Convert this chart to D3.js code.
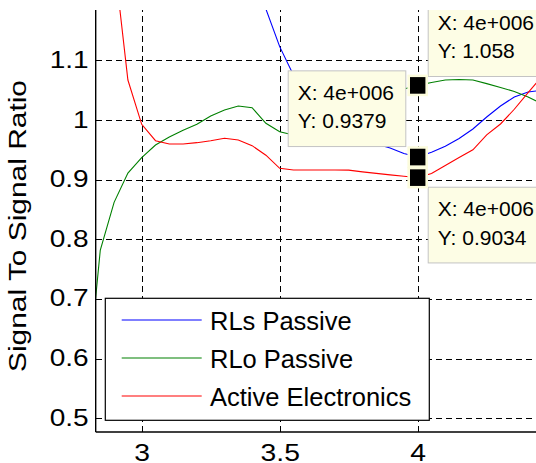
<!DOCTYPE html>
<html>
<head>
<meta charset="utf-8">
<script src="https://cdn.jsdelivr.net/npm/d3@7"></script>
<style>
  html, body { margin: 0; padding: 0; background: #fff; overflow: hidden; }
  svg { display: block; }
  text { font-family: "Liberation Sans", Arial, Helvetica, sans-serif; fill: #000; }
</style>
</head>
<body>
<svg id="chart" width="536" height="463"></svg>
<script>
// Frequency axis (MHz) and signal-to-signal ratio for each configuration
const frequency = [2.8, 2.85, 2.9, 2.95, 3.0, 3.05, 3.1, 3.15, 3.2, 3.25, 3.3, 3.35,
  3.4, 3.45, 3.5, 3.55, 3.6, 3.65, 3.7, 3.75, 3.8, 3.85, 3.9, 3.95, 4.0,
  4.05, 4.1, 4.15, 4.2, 4.25, 4.3, 4.35, 4.4, 4.45];

const rlsPassive = [null, null, null, null, null, null, null, null, null, null, null, null,
  1.32, 1.186, 1.123, 1.075, 1.035, 1.008, 0.988, 0.975, 0.966, 0.960, 0.953, 0.944, 0.9379,
  0.946, 0.956, 0.969, 0.985, 1.005, 1.0235, 1.0386, 1.047, 1.050];

const rloPassive = [0.545, 0.782, 0.862, 0.911, 0.937, 0.958, 0.9715, 0.983, 0.993, 1.0067, 1.0168, 1.0235,
  1.0206, 0.9945, 0.9804, 0.975, 0.978, 0.988, 0.999, 1.011, 1.024, 1.035, 1.045, 1.052, 1.058,
  1.0629, 1.067, 1.068, 1.067, 1.061, 1.0545, 1.0478, 1.0386, 1.027];

const activeElectronics = [null, null, 1.27, 1.067, 0.9928, 0.9653, 0.9598, 0.9598, 0.962, 0.9653, 0.9693, 0.9665,
  0.957, 0.941, 0.919, 0.9162, 0.9162, 0.9162, 0.9162, 0.916, 0.913, 0.9105, 0.908, 0.9058, 0.9034,
  0.9103, 0.9237, 0.937, 0.950, 0.975, 0.9933, 1.018, 1.046, 1.073];

const seriesNames = ["RLs Passive", "RLo Passive", "Active Electronics"];
const seriesColors = ["#0000ff", "#008000", "#ff0000"];

const xTicks = [3, 3.5, 4];
const xTickLabels = ["3", "3.5", "4"];
const yTicks = [0.5, 0.6, 0.7, 0.8, 0.9, 1.0, 1.1];
const yTickLabels = ["0.5", "0.6", "0.7", "0.8", "0.9", "1", "1.1"];
const yAxisTitle = "Signal To Signal Ratio";

// Data cursor placed at 4 MHz on every curve
const cursorFrequency = 4.0;
const frequencyUnit = 1e6;

const series = [rlsPassive, rloPassive, activeElectronics];

// ---- layout ----
const W = 536, H = 463;
const plot = { left: 95.7, top: 10, right: W, bottom: 432 };

const svg = d3.select("#chart");

const x = d3.scaleLinear().domain([3, 4]).range([141.7, 417.7]);
const y = d3.scaleLinear().domain([0.5, 1.0]).range([418.3, 120]);

svg.append("defs").append("clipPath").attr("id", "plotClip")
  .append("rect")
  .attr("x", plot.left).attr("y", plot.top)
  .attr("width", plot.right - plot.left).attr("height", plot.bottom - plot.top);

svg.append("defs").append("clipPath").attr("id", "figClip")
  .append("rect").attr("x", 0).attr("y", plot.top).attr("width", W).attr("height", H - plot.top);

// ---- dashed grid ----
const dash = "6,4";
svg.append("g")
  .attr("transform", `translate(${plot.left},0)`)
  .call(d3.axisLeft(y).tickValues(yTicks).tickSize(-(plot.right - plot.left)).tickFormat(""))
  .call(g => g.select(".domain").remove())
  .call(g => g.selectAll(".tick line")
    .attr("stroke", "#000").attr("stroke-width", 1).attr("stroke-dasharray", dash)
    .attr("shape-rendering", "crispEdges"));

svg.append("g")
  .attr("transform", `translate(0,${plot.bottom})`)
  .call(d3.axisBottom(x).tickValues(xTicks).tickSize(-(plot.bottom - plot.top)).tickFormat(""))
  .call(g => g.select(".domain").remove())
  .call(g => g.selectAll(".tick line")
    .attr("stroke", "#000").attr("stroke-width", 1).attr("stroke-dasharray", dash)
    .attr("shape-rendering", "crispEdges"));

// ---- curves ----
const line = d3.line()
  .defined(d => d[1] !== null)
  .x(d => x(d[0]))
  .y(d => y(d[1]));

const curves = svg.append("g").attr("clip-path", "url(#plotClip)");
series.forEach((vals, i) => {
  curves.append("path")
    .datum(frequency.map((f, k) => [f, vals[k]]))
    .attr("fill", "none")
    .attr("stroke", seriesColors[i])
    .attr("stroke-width", 1.1)
    .attr("d", line);
});

// ---- axes (inward ticks, MATLAB style) ----
const yAxis = svg.append("g")
  .attr("transform", `translate(${plot.left},0)`)
  .call(d3.axisLeft(y).tickValues(yTicks).tickSizeInner(-5).tickSizeOuter(0)
    .tickFormat((d, i) => yTickLabels[i]));
yAxis.select(".domain").remove();
yAxis.selectAll(".tick line").attr("stroke", "#000").attr("shape-rendering", "crispEdges");
yAxis.selectAll(".tick text")
  .attr("x", null).attr("dy", null)
  .attr("text-anchor", "end")
  .attr("font-size", 23)
  .attr("font-family", null)
  .attr("transform", "translate(-7,7) scale(1.22,1)");

const xAxis = svg.append("g")
  .attr("transform", `translate(0,${plot.bottom})`)
  .call(d3.axisBottom(x).tickValues(xTicks).tickSizeInner(-5).tickSizeOuter(0)
    .tickFormat((d, i) => xTickLabels[i]));
xAxis.select(".domain").remove();
xAxis.selectAll(".tick line").attr("stroke", "#000").attr("shape-rendering", "crispEdges");
xAxis.selectAll(".tick text")
  .attr("y", null).attr("dy", null)
  .attr("text-anchor", "middle")
  .attr("font-size", 24)
  .attr("font-family", null)
  .attr("transform", "translate(0,29) scale(1.18,1)");

svg.append("line")
  .attr("x1", plot.left).attr("x2", plot.left)
  .attr("y1", plot.top).attr("y2", plot.bottom)
  .attr("stroke", "#000").attr("stroke-width", 1.4);
svg.append("line")
  .attr("x1", plot.left).attr("x2", plot.right)
  .attr("y1", plot.bottom).attr("y2", plot.bottom)
  .attr("stroke", "#000").attr("stroke-width", 1.4);

svg.append("text")
  .attr("transform", `translate(26,${(80 + 372) / 2}) rotate(-90)`)
  .attr("text-anchor", "middle")
  .attr("font-size", 23)
  .attr("textLength", 292)
  .attr("lengthAdjust", "spacingAndGlyphs")
  .text(yAxisTitle);

// ---- legend ----
const legend = svg.append("g");
legend.append("rect")
  .attr("x", 105.3).attr("y", 298.3).attr("width", 324).attr("height", 122)
  .attr("fill", "#fff").attr("stroke", "#000").attr("stroke-width", 1.2);
seriesNames.forEach((name, i) => {
  const cy = 320 + i * 38;
  legend.append("line")
    .attr("x1", 121.7).attr("x2", 201.7).attr("y1", cy).attr("y2", cy)
    .attr("stroke", seriesColors[i]).attr("stroke-width", 1.1);
  legend.append("text")
    .attr("x", 210).attr("y", cy + 10.2)
    .attr("font-size", 25.5)
    .text(name);
});

// ---- data tips ----
function formatExp(v) {
  const e = Math.floor(Math.log10(Math.abs(v)));
  const m = +(v / Math.pow(10, e)).toPrecision(4);
  return `${m}e${e >= 0 ? "+" : "-"}${String(Math.abs(e)).padStart(3, "0")}`;
}
const fmtY = d3.format(".4~g");
const k = frequency.indexOf(cursorFrequency);

// box placement relative to each cursor marker
const tipPlacement = [
  { dx: -12.4, dy: -86.7, side: "left" },  // RLs Passive
  { dx: 10, dy: -85.1, side: "right" },    // RLo Passive
  { dx: 10, dy: 9.1, side: "right" }       // Active Electronics
];
const boxH = 75.7, boxWLeft = 117.6, boxWRight = 125;

const tips = svg.append("g").attr("clip-path", "url(#figClip)");
series.forEach((vals, i) => {
  const mx = x(cursorFrequency), my = y(vals[k]);
  const p = tipPlacement[i];
  const bw = p.side === "left" ? boxWLeft : boxWRight;
  const bx = p.side === "left" ? mx + p.dx - bw : mx + p.dx;
  const by = my + p.dy;
  tips.append("rect")
    .attr("x", bx + 0.5).attr("y", by + 0.5).attr("width", bw).attr("height", boxH)
    .attr("fill", "#fdfde5").attr("stroke", "#c4c4c4").attr("stroke-width", 1);
  tips.append("text")
    .attr("x", bx + 10).attr("y", by + 29.5)
    .attr("font-size", 21)
    .text(`X: ${formatExp(cursorFrequency * frequencyUnit)}`);
  tips.append("text")
    .attr("x", bx + 10).attr("y", by + 57.8)
    .attr("font-size", 21)
    .text(`Y: ${fmtY(vals[k])}`);
});

// cursor markers
series.forEach(vals => {
  const mx = x(cursorFrequency), my = y(vals[k]);
  tips.append("rect")
    .attr("x", mx - 10.3).attr("y", my - 10.8).attr("width", 20.6).attr("height", 21.6)
    .attr("fill", "#fcfcdc");
  tips.append("rect")
    .attr("x", mx - 7.7).attr("y", my - 8.3).attr("width", 15.4).attr("height", 16.6)
    .attr("fill", "#000");
});
</script>
</body>
</html>
